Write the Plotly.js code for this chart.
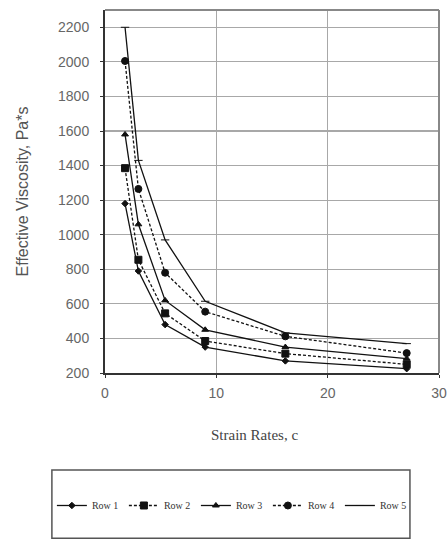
<!DOCTYPE html>
<html>
<head>
<meta charset="utf-8">
<script src="https://cdn.plot.ly/plotly-3.0.1.min.js"></script>
<style>html,body{margin:0;padding:0;background:#fff;}#chart{width:447px;height:540px;}</style>
</head>
<body>
<div id="chart"></div>
<script>
// Data
const strainRates = [1.8, 3.0, 5.4, 9.0, 16.2, 27.1];
const row1 = [1180, 790, 480, 350, 270, 225];
const row2 = [1385, 855, 545, 385, 312, 250];
const row3 = [1580, 1060, 620, 450, 350, 283];
const row4 = [2005, 1265, 780, 555, 412, 315];
const row5 = [2200, 1430, 970, 615, 432, 370];
const seriesNames = ['Row 1', 'Row 2', 'Row 3', 'Row 4', 'Row 5'];
const xTitle = 'Strain Rates, c';
const yTitle = 'Effective Viscosity, Pa*s';

const seriesValues = [row1, row2, row3, row4, row5];
const styles = [
  {dash: 'solid', symbol: 'diamond', size: 5},
  {dash: '3px,2px', symbol: 'square', size: 7},
  {dash: 'solid', symbol: 'triangle-up', size: 6},
  {dash: '3px,2px', symbol: 'circle', size: 7},
  {dash: 'solid', symbol: 'line-ew', size: 6}
];

const traces = seriesValues.map((vals, i) => ({
  x: strainRates,
  y: vals,
  name: seriesNames[i],
  type: 'scatter',
  mode: 'lines+markers',
  line: {color: '#111', width: 1.3, dash: styles[i].dash},
  marker: {color: '#111', symbol: styles[i].symbol, size: styles[i].size,
           line: {color: '#111', width: 1}}
}));

const layout = {
  width: 447, height: 540,
  margin: {l: 105, r: 8, t: 10, b: 167},
  paper_bgcolor: '#fff', plot_bgcolor: '#fff',
  showlegend: true,
  legend: {
    orientation: 'h', x: -0.159, y: -0.365, xanchor: 'left', yanchor: 'middle',
    font: {family: 'Liberation Serif, serif', size: 10, color: '#333'},
    entrywidth: 27, itemwidth: 30, bgcolor: 'rgba(0,0,0,0)'
  },
  xaxis: {
    range: [0, 30], tick0: 0, dtick: 10,
    showgrid: true, gridcolor: '#a8a8a8', gridwidth: 1.2,
    showline: true, linecolor: '#333', linewidth: 2, mirror: false,
    ticks: 'outside', ticklen: 3, tickcolor: '#333', ticklabelstandoff: 3,
    tickfont: {family: 'Liberation Sans, Arial, sans-serif', size: 14, color: '#666'},
    zeroline: false
  },
  yaxis: {
    range: [200, 2300], tick0: 200, dtick: 200,
    showgrid: true, gridcolor: '#a8a8a8', gridwidth: 1.2,
    showline: true, linecolor: '#333', linewidth: 2,
    ticks: 'outside', ticklen: 3, tickcolor: '#333', ticklabelstandoff: 8,
    tickfont: {family: 'Liberation Sans, Arial, sans-serif', size: 14, color: '#666'},
    title: {text: yTitle, font: {family: 'Liberation Sans, Arial, sans-serif', size: 16, color: '#555'}, standoff: 25},
    zeroline: false
  },
  shapes: [
    {type: 'line', xref: 'paper', yref: 'paper', x0: 0, x1: 1, y0: 1, y1: 1, line: {color: '#888', width: 2}},
    {type: 'line', xref: 'paper', yref: 'paper', x0: 1, x1: 1, y0: 0, y1: 1, line: {color: '#888', width: 2}},
    {type: 'rect', xref: 'paper', yref: 'paper', x0: -0.159, x1: 0.913, y0: -0.267, y1: -0.455,
     line: {color: '#555', width: 1.5}, fillcolor: 'rgba(0,0,0,0)'}
  ],
  annotations: [
    {text: xTitle, xref: 'paper', yref: 'paper', x: 0.449, y: -0.171, showarrow: false,
     xanchor: 'center', yanchor: 'middle',
     font: {family: 'Liberation Serif, serif', size: 15, color: '#444'}}
  ]
};

Plotly.newPlot('chart', traces, layout, {displayModeBar: false, staticPlot: true});
</script>
</body>
</html>
